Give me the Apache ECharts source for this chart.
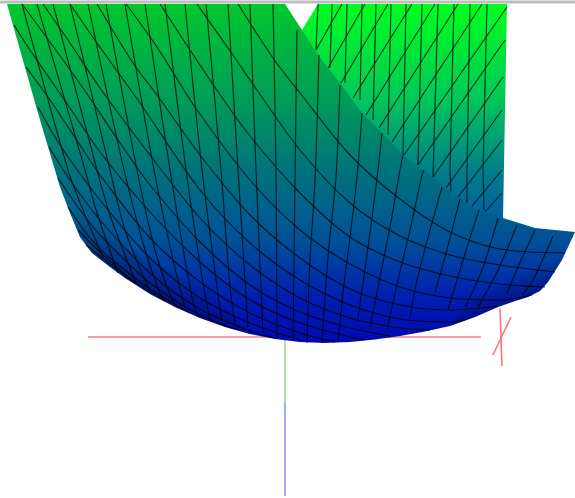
<!DOCTYPE html>
<html>
<head>
<meta charset="utf-8">
<style>
  html, body { margin: 0; padding: 0; background: #fff; }
  #chart { width: 575px; height: 498px; }
</style>
<script src="https://cdn.jsdelivr.net/npm/echarts@6/dist/echarts.min.js"></script>
</head>
<body>
<div id="chart"></div>
<script>
// everything, in the picture's own x / y units
var topBar = [[0, 2], [575, 2]];
var redLong = [[88, 337], [481, 337]];
var redTickA = [[500, 308], [502, 366]];
var redTickB = [[511, 317], [493, 355]];
var greenAxis = [[285, 338], [285, 403]];
var blueAxis = [[285, 403], [285, 496]];

var backEdge = [[302, 30], [318, 4], [507, 4], [503, 218], [503, 240], [430, 200], [370, 140], [310, 60]];
var frontEdge = [[7, 4], [285, 4], [302, 30], [318, 55], [340, 83], [362, 113], [382, 133], [403, 155], [433, 177], [455, 195],
  [478, 210], [503, 218], [535, 228], [575, 232], [562, 260], [548, 282], [540, 291], [528, 297], [515, 301], [498, 307],
  [475, 317], [450, 326], [425, 331.5], [400, 336], [375, 339.5], [350, 342], [325, 343], [300, 342], [275, 339],
  [250, 334], [225, 327], [200, 318], [175, 307], [150, 294], [125, 278], [110, 267], [92, 253],
  [80, 237], [70, 213], [60, 187], [40, 120], [20, 50]];
var leftShade = [[60, 187], [70, 213], [80, 237], [92, 253], [110, 267], [125, 278], [150, 294], [175, 307], [200, 318],
  [225, 327], [250, 334], [210, 290], [130, 250], [95, 225]];
var rightShade = [[575, 232], [562, 260], [548, 282], [540, 291], [528, 297], [515, 301], [498, 307], [475, 317], [450, 326],
  [470, 300], [520, 275]];

var backRibs = [
  [[318, 4], [316, 50]], [[332, 4], [330, 68]], [[347, 4], [345, 83]], [[362, 4], [360, 100]],
  [[376, 4], [373, 120]], [[391, 4], [388, 135]], [[406, 4], [403, 155]], [[422, 4], [418, 165]],
  [[438, 4], [433, 177]], [[454, 4], [450, 170], [451, 192]], [[470, 4], [467, 170], [467, 203]],
  [[487, 4], [483, 170], [484, 210]]
];
var backCross = [
  [[316, 50], [342, 4]], [[328, 68], [365, 4]], [[341, 83], [388, 4]], [[353, 98], [412, 4]],
  [[366, 115], [435, 4]], [[379, 128], [458, 4]], [[392, 142], [482, 4]], [[404, 155], [507, 7]],
  [[418, 165], [505, 40]], [[433, 177], [503, 77]], [[446, 188], [502, 110]], [[458, 197], [502, 140]],
  [[472, 206], [502, 170]], [[485, 212], [502, 193]]
];

var frontRibs = [
  [[22, 4], [68, 170], [83, 210], [103, 257]],
  [[37, 4], [85, 170], [97, 213], [118, 273]],
  [[53, 4], [97, 170], [110, 215], [132, 273], [136, 282]],
  [[70, 4], [110, 170], [125, 230], [147, 285], [150, 291]],
  [[88, 4], [124, 170], [143, 243], [160, 293], [166, 300]],
  [[106, 4], [137, 170], [155, 250], [172, 300], [178, 308]],
  [[125, 4], [154, 170], [173, 260], [185, 308]],
  [[145, 4], [170, 170], [193, 303], [199, 317]],
  [[165, 4], [186, 170], [203, 283], [210, 320]],
  [[185, 4], [202, 170], [217, 287], [222, 323]],
  [[206, 4], [221, 170], [230, 287], [235, 323]],
  [[228, 4], [238, 170], [245, 280], [248, 327]],
  [[250, 4], [256, 170], [263, 333]],
  [[273, 4], [276, 170], [277, 338]],
  [[297, 30], [295, 180], [293, 340]],
  [[319, 55], [315, 180], [310, 260], [307, 343]],
  [[340, 85], [336, 177], [328, 257], [322, 343]],
  [[362, 113], [357, 177], [350, 237], [343, 293], [338, 342]],
  [[382, 133], [378, 170], [370, 233], [358, 318]],
  [[403, 155], [400, 170], [390, 227], [378, 287], [370, 327]],
  [[424, 170], [422, 175], [410, 230], [398, 280], [387, 330]],
  [[442, 187], [430, 230], [417, 280], [410, 317]],
  [[460, 199], [445, 257], [435, 292]],
  [[479, 210], [463, 260], [448, 310]],
  [[498, 218], [482, 270], [465, 307]],
  [[517, 225], [498, 270], [478, 307]],
  [[535, 230], [518, 267], [507, 293]],
  [[553, 236], [533, 280], [522, 295]]
];
var frontCross = [
  [[238, 4], [273, 58], [300, 93], [350, 155], [400, 199], [450, 232], [500, 249], [565, 253]],
  [[197, 4], [235, 58], [250, 80], [300, 150], [350, 203], [400, 236], [450, 255], [500, 265], [555, 272]],
  [[160, 4], [212, 83], [250, 136], [300, 193], [350, 237], [400, 262], [450, 276], [500, 284], [545, 287]],
  [[126, 4], [157, 47], [195, 107], [250, 180], [300, 230], [350, 264], [400, 287], [450, 298], [500, 300], [532, 295]],
  [[97, 4], [133, 63], [157, 95], [200, 155], [250, 215], [300, 258], [350, 289], [400, 305], [450, 310], [498, 306]],
  [[70, 4], [97, 43], [140, 103], [200, 190], [250, 243], [300, 280], [350, 305], [400, 319], [450, 322], [465, 320]],
  [[43, 4], [70, 43], [100, 88], [150, 155], [200, 218], [250, 265], [300, 298], [350, 318], [400, 328], [430, 330]],
  [[22, 4], [47, 38], [83, 88], [120, 143], [150, 185], [200, 242], [250, 285], [300, 312], [350, 328], [390, 336]],
  [[14, 25], [30, 50], [70, 108], [100, 152], [150, 212], [200, 262], [250, 300], [300, 323], [350, 337], [365, 340]],
  [[26, 67], [50, 100], [80, 145], [100, 175], [150, 238], [200, 282], [250, 313], [300, 333], [335, 342]],
  [[38, 107], [60, 145], [100, 200], [150, 258], [200, 298], [250, 323], [300, 340]],
  [[49, 147], [70, 180], [100, 220], [150, 273], [200, 309], [250, 331], [275, 338]],
  [[58, 178], [80, 210], [100, 235], [150, 283], [200, 315], [235, 329]],
  [[68, 207], [90, 238], [110, 258], [150, 289], [190, 313]],
  [[78, 230], [100, 252], [130, 278], [165, 301]],
  [[86, 245], [110, 264], [135, 283]]
];

var lineColor = 'rgba(0,0,0,0.78)';

function sheet(edge, stops, z) {
  return {
    type: 'custom', coordinateSystem: 'cartesian2d', z: z, silent: true, clip: false,
    data: edge,
    renderItem: function (params, api) {
      if (params.dataIndex !== 0) return null;
      var y0 = api.coord([0, 4])[1];
      var y1 = api.coord([0, 343])[1];
      return {
        type: 'polygon',
        shape: { points: edge.map(function (p) { return api.coord(p); }) },
        style: { fill: new echarts.graphic.LinearGradient(0, y0, 0, y1, stops, true) }
      };
    }
  };
}

// dark fade along a lower edge, from -> to is the direction it fades in
function shade(edge, from, to, z) {
  return {
    type: 'custom', coordinateSystem: 'cartesian2d', z: z, silent: true, clip: false,
    data: edge,
    renderItem: function (params, api) {
      if (params.dataIndex !== 0) return null;
      var a = api.coord(from), b = api.coord(to);
      return {
        type: 'polygon',
        shape: { points: edge.map(function (p) { return api.coord(p); }) },
        style: {
          fill: new echarts.graphic.LinearGradient(a[0], a[1], b[0], b[1], [
            { offset: 0, color: 'rgba(0,0,40,0.45)' },
            { offset: 1, color: 'rgba(0,0,40,0)' }
          ], true)
        }
      };
    }
  };
}

function wire(points, color, width, z, smooth) {
  return {
    type: 'line', data: points, z: z, silent: true, smooth: smooth ? 0.3 : false,
    showSymbol: false, symbol: 'none', clip: false,
    lineStyle: { color: color, width: width }
  };
}

var series = [
  wire(topBar, '#bdbdbd', 3, 1),
  wire(redLong, '#ff8080', 1.5, 1),
  wire(redTickA, '#ff7070', 1.5, 1),
  wire(redTickB, '#ff7070', 1.5, 1),
  wire(greenAxis, '#80e080', 1.5, 1),
  wire(blueAxis, '#8888f8', 1.5, 1),
  sheet(backEdge, [
    { offset: 0, color: '#00ff1e' },
    { offset: 0.28, color: '#00c85a' },
    { offset: 0.5, color: '#007c8c' },
    { offset: 0.62, color: '#00629c' },
    { offset: 1, color: '#0010b0' }
  ], 2)
];
backRibs.concat(backCross).forEach(function (l) { series.push(wire(l, lineColor, 1.1, 3)); });
series.push(sheet(frontEdge, [
  { offset: 0, color: '#00c82e' },
  { offset: 0.28, color: '#009c58' },
  { offset: 0.49, color: '#00737c' },
  { offset: 0.7, color: '#005098' },
  { offset: 0.87, color: '#001eb0' },
  { offset: 1, color: '#0008b0' }
], 4));
series.push(shade(leftShade, [105, 285], [130, 240], 4));
series.push(shade(rightShade, [505, 320], [490, 285], 4));
frontRibs.forEach(function (l) { series.push(wire(l, lineColor, 1.1, 5, true)); });
frontCross.forEach(function (l) { series.push(wire(l, lineColor, 1.1, 5, true)); });

var chart = echarts.init(document.getElementById('chart'));
chart.setOption({
  animation: false,
  backgroundColor: '#fff',
  grid: { left: 0, right: 0, top: 0, bottom: 0 },
  xAxis: { type: 'value', min: 0, max: 575, show: false },
  yAxis: { type: 'value', min: 0, max: 498, inverse: true, show: false },
  series: series
});
</script>
</body>
</html>
